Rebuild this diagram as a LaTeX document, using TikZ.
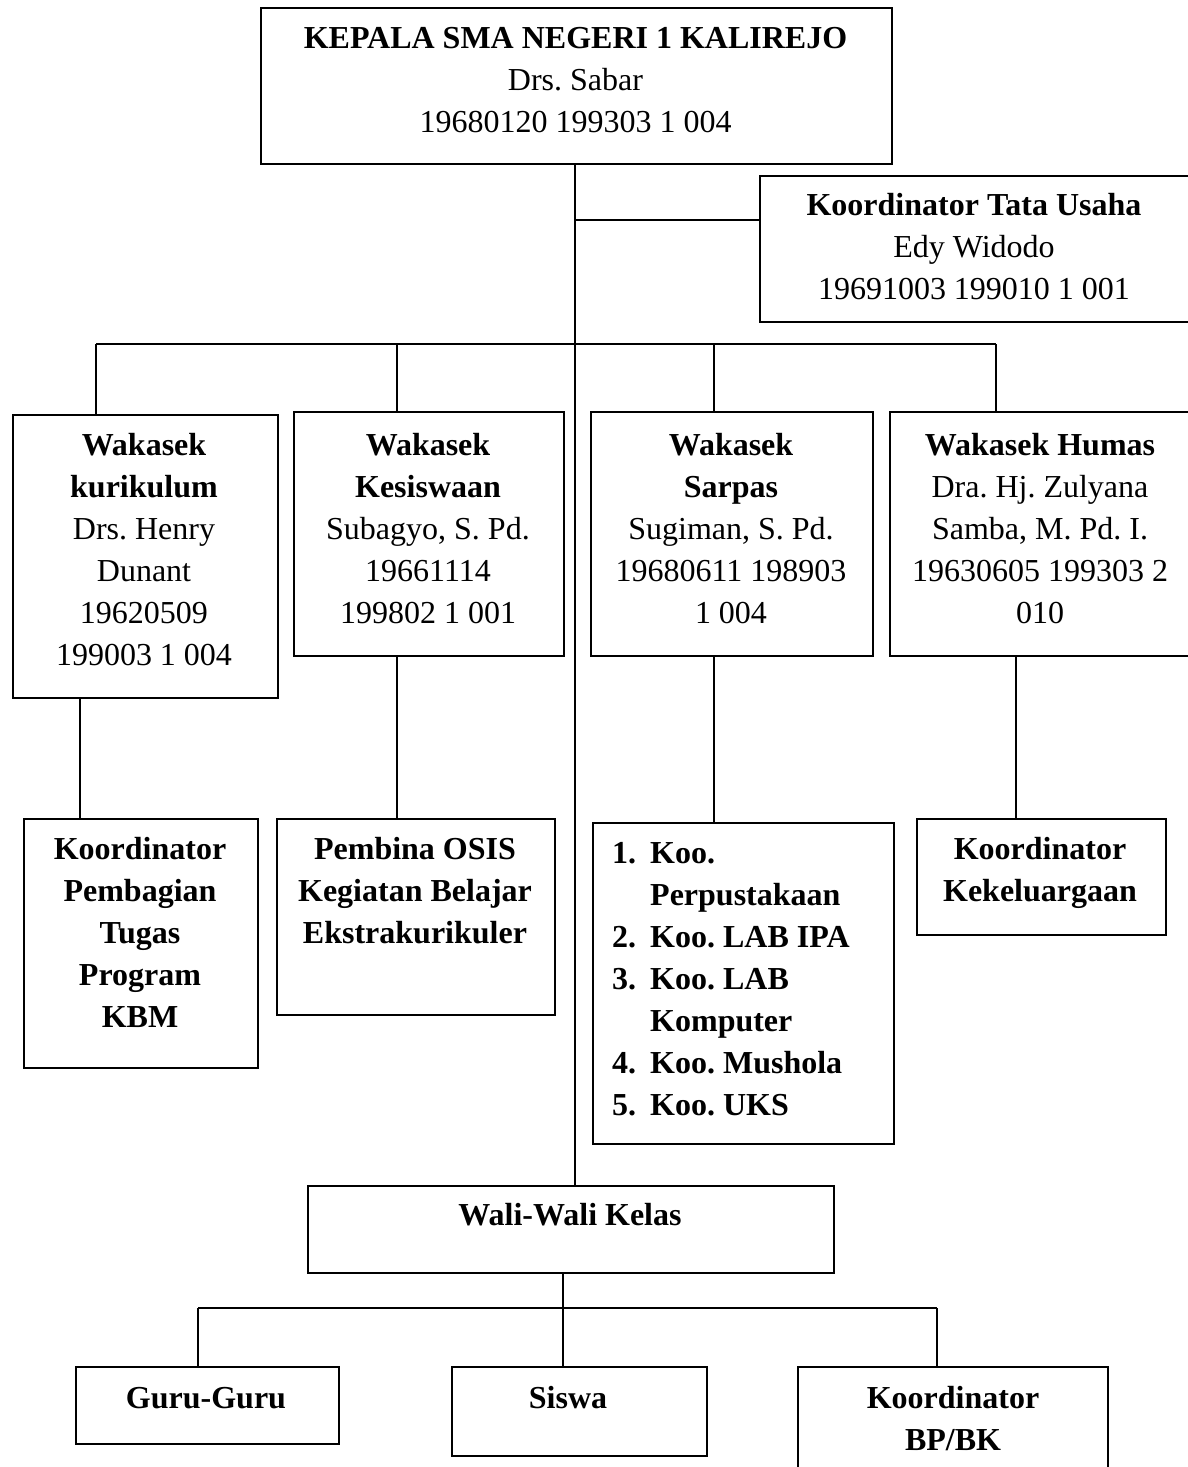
\documentclass[tikz,border=0pt]{standalone}
\usepackage{fontspec}
\setmainfont{Liberation Serif}
\newcommand\ztop{\rule{0pt}{25pt}}
\begin{document}
\frenchspacing
\begin{tikzpicture}[x=1pt,y=-1pt,
  box/.style={draw, line width=1.6pt, inner sep=0pt, anchor=north west},
  txt/.style={inner sep=0pt, anchor=north, align=center, font=\fontsize{32}{42}\selectfont},
  btxt/.style={txt, font=\fontsize{32}{42}\selectfont\bfseries},
  ltxt/.style={inner sep=0pt, anchor=north west, align=left, font=\fontsize{32}{42}\selectfont\bfseries},
  link/.style={line width=1.5pt}]
\useasboundingbox (0,0) rectangle (1187,1467);
% boxes
\node[box, minimum width=631pt, minimum height=156pt] (top) at (260,7) {};
\node[box, minimum width=432pt, minimum height=146pt] (tata) at (759,175) {};
\node[box, minimum width=265pt, minimum height=283pt] (w1) at (12,414) {};
\node[box, minimum width=270pt, minimum height=244pt] (w2) at (293,411) {};
\node[box, minimum width=282pt, minimum height=244pt] (w3) at (590,411) {};
\node[box, minimum width=305pt, minimum height=244pt] (w4) at (889,411) {};
\node[box, minimum width=234pt, minimum height=249pt] (k1) at (23,818) {};
\node[box, minimum width=278pt, minimum height=196pt] (k2) at (276,818) {};
\node[box, minimum width=301pt, minimum height=321pt] (k3) at (592,822) {};
\node[box, minimum width=249pt, minimum height=116pt] (k4) at (916,818) {};
\node[box, minimum width=526pt, minimum height=87pt] (wali) at (307,1185) {};
\node[box, minimum width=263pt, minimum height=77pt] (g1) at (75,1366) {};
\node[box, minimum width=255pt, minimum height=89pt] (g2) at (451,1366) {};
\node[box, minimum width=310pt, minimum height=120pt] (g3) at (797,1366) {};
% texts
\node[txt] (ttop) at (575.5,23) {\ztop\textbf{KEPALA SMA NEGERI 1 KALIREJO}\\Drs. Sabar\\19680120 199303 1 004};
\node[txt] (ttata) at (974,190) {\ztop\textbf{Koordinator Tata Usaha}\\Edy Widodo\\19691003 199010 1 001};
\node[txt] (tw1) at (144,430) {\ztop\textbf{Wakasek}\\\textbf{kurikulum}\\Drs. Henry\\Dunant\\19620509\\199003 1 004};
\node[txt] (tw2) at (428,430) {\ztop\textbf{Wakasek}\\\textbf{Kesiswaan}\\Subagyo, S. Pd.\\19661114\\199802 1 001};
\node[txt] (tw3) at (731,430) {\ztop\textbf{Wakasek}\\\textbf{Sarpas}\\Sugiman, S. Pd.\\19680611 198903\\1 004};
\node[txt] (tw4) at (1040,430) {\ztop\textbf{Wakasek Humas}\\Dra. Hj. Zulyana\\Samba, M. Pd. I.\\19630605 199303 2\\010};
\node[btxt] (tk1) at (140,834) {\ztop Koordinator\\Pembagian\\Tugas\\Program\\KBM};
\node[btxt] (tk2) at (415,834) {\ztop Pembina OSIS\\Kegiatan Belajar\\Ekstrakurikuler};
\node[ltxt] (tk3) at (612,838) {\ztop\makebox[38pt][l]{1.}Koo.\\\hspace*{38pt}Perpustakaan\\\makebox[38pt][l]{2.}Koo. LAB IPA\\\makebox[38pt][l]{3.}Koo. LAB\\\hspace*{38pt}Komputer\\\makebox[38pt][l]{4.}Koo. Mushola\\\makebox[38pt][l]{5.}Koo. UKS};
\node[btxt] (tk4) at (1040,834) {\ztop Koordinator\\Kekeluargaan};
\node[btxt] (twali) at (570,1200) {\ztop Wali-Wali Kelas};
\node[btxt] (tg1) at (206,1383) {\ztop Guru-Guru};
\node[btxt] (tg2) at (568,1383) {\ztop Siswa};
\node[btxt] (tg3) at (953,1383) {\ztop Koordinator\\BP/BK};
% connector positions
\coordinate (trunk) at (575,0);
\coordinate (tj) at (575,220);
\coordinate (bus) at (0,344);
\coordinate (d1) at (96,0);
\coordinate (d2) at (397,0);
\coordinate (d3) at (714,0);
\coordinate (d4) at (996,0);
\coordinate (e1) at (80,0);
\coordinate (e2) at (397,0);
\coordinate (e3) at (714,0);
\coordinate (e4) at (1016,0);
\coordinate (wx) at (563,0);
\coordinate (bus2) at (0,1308);
\coordinate (f1) at (198,0);
\coordinate (f3) at (937,0);
% connectors
\draw[link] (top.south -| trunk) -- (wali.north -| trunk);
\draw[link] (tj) -- (tj -| tata.west);
\draw[link] (d1 |- bus) -- (d4 |- bus);
\draw[link] (d1 |- bus) -- (w1.north -| d1);
\draw[link] (d2 |- bus) -- (w2.north -| d2);
\draw[link] (d3 |- bus) -- (w3.north -| d3);
\draw[link] (d4 |- bus) -- (w4.north -| d4);
\draw[link] (w1.south -| e1) -- (k1.north -| e1);
\draw[link] (w2.south -| e2) -- (k2.north -| e2);
\draw[link] (w3.south -| e3) -- (k3.north -| e3);
\draw[link] (w4.south -| e4) -- (k4.north -| e4);
\draw[link] (wali.south -| wx) -- (wx |- bus2);
\draw[link] (f1 |- bus2) -- (f3 |- bus2);
\draw[link] (f1 |- bus2) -- (g1.north -| f1);
\draw[link] (wx |- bus2) -- (g2.north -| wx);
\draw[link] (f3 |- bus2) -- (g3.north -| f3);
\end{tikzpicture}
\end{document}
